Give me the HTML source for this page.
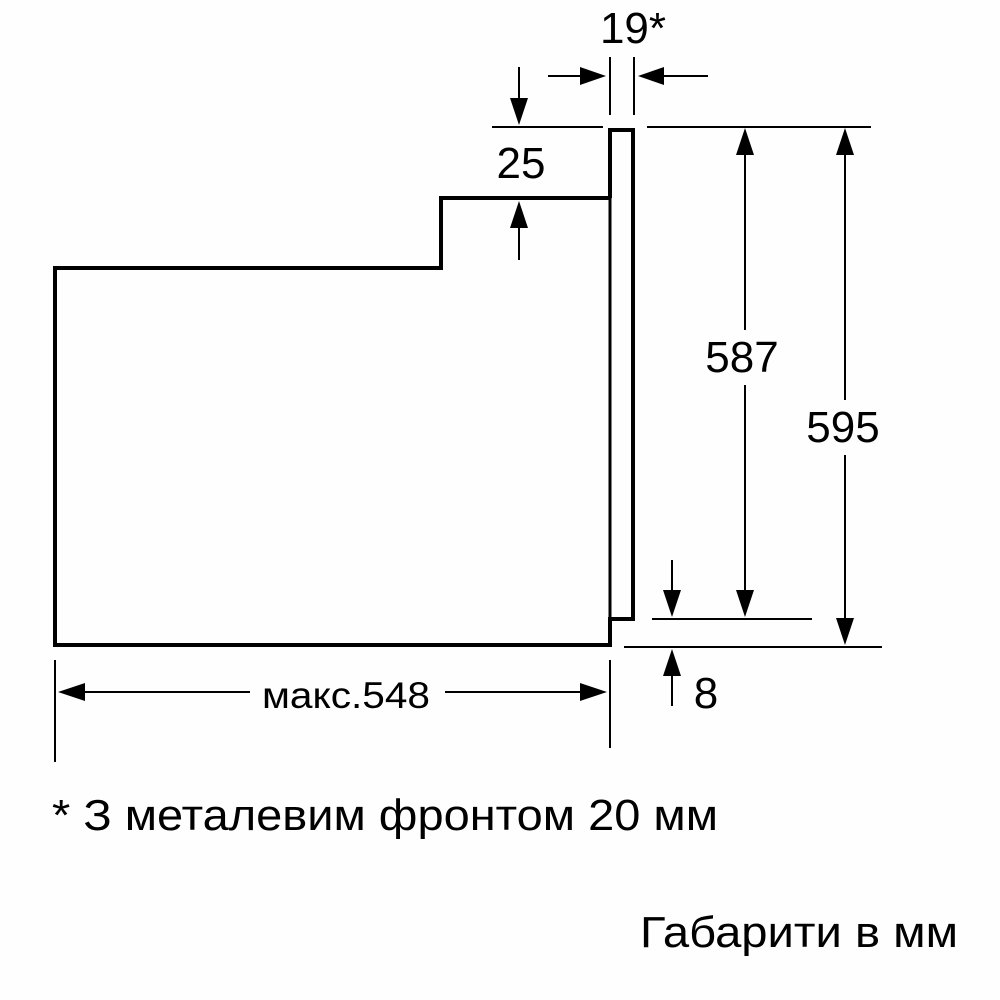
<!DOCTYPE html>
<html><head><meta charset="utf-8"><style>html,body{margin:0;padding:0;background:#fff}svg{display:block}</style></head>
<body>
<svg width="1000" height="1000" viewBox="0 0 1000 1000" xmlns="http://www.w3.org/2000/svg" font-family="Liberation Sans, Arial, sans-serif" fill="#000">
<rect width="1000" height="1000" fill="#fefefe"/>
<g stroke="#000" fill="none">
<!-- body -->
<path d="M610 645 L55 645 L55 268 L441 268 L441 198 L610 198" stroke-width="4"/>
<path d="M610 198 L610 130 L633 130 L633 619 L610 619 L610 647" stroke-width="4"/>
<line x1="610" y1="198" x2="610" y2="619" stroke-width="3"/>
<!-- thin lines -->
<g stroke-width="2">
<line x1="610" y1="57" x2="610" y2="115"/>
<line x1="634" y1="57" x2="634" y2="115"/>
<line x1="548" y1="76" x2="590" y2="76"/>
<line x1="655" y1="76" x2="708" y2="76"/>
<line x1="492" y1="127" x2="603" y2="127"/>
<line x1="647" y1="127" x2="871" y2="127"/>
<line x1="519" y1="67" x2="519" y2="105"/>
<line x1="519" y1="222" x2="519" y2="260"/>
<line x1="745" y1="150" x2="745" y2="330"/>
<line x1="745" y1="385" x2="745" y2="595"/>
<line x1="845" y1="150" x2="845" y2="400"/>
<line x1="845" y1="455" x2="845" y2="625"/>
<line x1="652" y1="619" x2="812" y2="619"/>
<line x1="624" y1="647" x2="882" y2="647"/>
<line x1="672" y1="560" x2="672" y2="595"/>
<line x1="672" y1="670" x2="672" y2="706"/>
<line x1="55" y1="660" x2="55" y2="762"/>
<line x1="610" y1="660" x2="610" y2="748"/>
<line x1="80" y1="692" x2="250" y2="692"/>
<line x1="445" y1="692" x2="585" y2="692"/>
</g>
</g>
<!-- arrowheads -->
<g fill="#000">
<polygon points="606,76 580,67 580,85"/>
<polygon points="638,76 664,67 664,85"/>
<polygon points="519,125 510,98 528,98"/>
<polygon points="519,201 510,228 528,228"/>
<polygon points="745,128 736,155 754,155"/>
<polygon points="745,617 736,590 754,590"/>
<polygon points="845,128 836,155 854,155"/>
<polygon points="845,645 836,618 854,618"/>
<polygon points="672,617 663,590 681,590"/>
<polygon points="672,649 663,676 681,676"/>
<polygon points="58,692 85,683 85,701"/>
<polygon points="607,692 580,683 580,701"/>
</g>
<g font-size="44">
<text x="633" y="43" text-anchor="middle">19*</text>
<text x="521" y="178" text-anchor="middle">25</text>
<text x="742" y="372" text-anchor="middle">587</text>
<text x="843" y="442" text-anchor="middle">595</text>
<text x="706" y="708" text-anchor="middle">8</text>
</g>
<text x="262" y="708" font-size="37" textLength="168" lengthAdjust="spacingAndGlyphs">макс.548</text>
<text x="52" y="830" font-size="44" textLength="666" lengthAdjust="spacingAndGlyphs">* З металевим фронтом 20 мм</text>
<text x="640" y="947" font-size="44" textLength="318" lengthAdjust="spacingAndGlyphs">Габарити в мм</text>
</svg>
</body></html>
